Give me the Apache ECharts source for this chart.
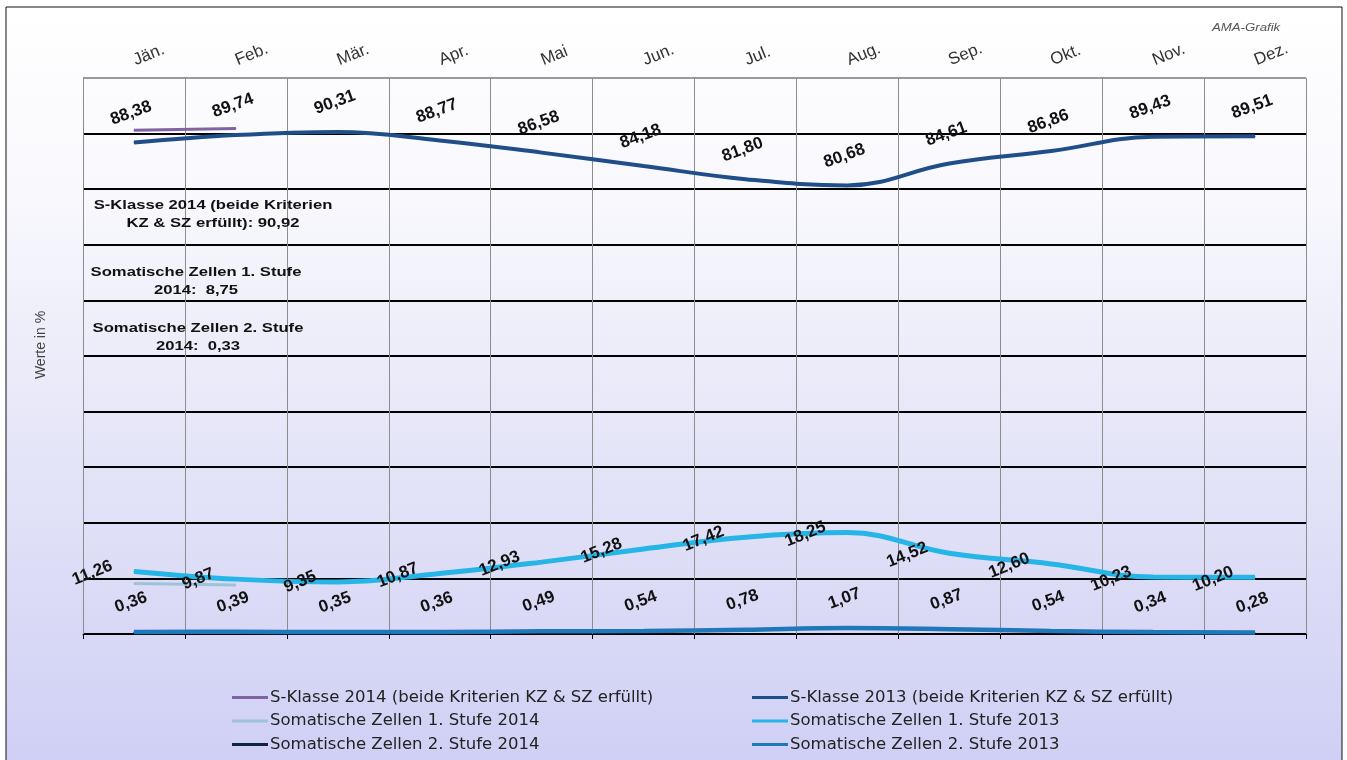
<!DOCTYPE html>
<html>
<head>
<meta charset="utf-8">
<script src="https://cdn.jsdelivr.net/npm/echarts@6/dist/echarts.min.js"></script>
<style>
html,body{margin:0;padding:0;background:#fff;}
#c{width:1347px;height:760px;}
</style>
</head>
<body>
<div id="c"></div>
<script>
const months = ['Jän.', 'Feb.', 'Mär.', 'Apr.', 'Mai', 'Jun.', 'Jul.', 'Aug.', 'Sep.', 'Okt.', 'Nov.', 'Dez.'];

const sKlasse2014 = [90.6, 90.9, null, null, null, null, null, null, null, null, null, null];
const sz1Stufe2014 = [9.1, 8.8, null, null, null, null, null, null, null, null, null, null];
const sz2Stufe2014 = [0.33, 0.33, null, null, null, null, null, null, null, null, null, null];

const sKlasse2013 = [88.38, 89.74, 90.31, 88.77, 86.58, 84.18, 81.80, 80.68, 84.61, 86.86, 89.43, 89.51];
const sz1Stufe2013 = [11.26, 9.87, 9.35, 10.87, 12.93, 15.28, 17.42, 18.25, 14.52, 12.60, 10.23, 10.20];
const sz2Stufe2013 = [0.36, 0.39, 0.35, 0.36, 0.49, 0.54, 0.78, 1.07, 0.87, 0.54, 0.34, 0.28];

const names = {
  s14: 'S-Klasse 2014 (beide Kriterien KZ & SZ erfüllt)',
  z114: 'Somatische Zellen 1. Stufe 2014',
  z214: 'Somatische Zellen 2. Stufe 2014',
  s13: 'S-Klasse 2013 (beide Kriterien KZ & SZ erfüllt)',
  z113: 'Somatische Zellen 1. Stufe 2013',
  z213: 'Somatische Zellen 2. Stufe 2013'
};

const annotations = [
  {text: 'S-Klasse 2014 (beide Kriterien\nKZ & SZ erfüllt): 90,92', x: 213, y: 214},
  {text: 'Somatische Zellen 1. Stufe\n2014:  8,75', x: 196, y: 281},
  {text: 'Somatische Zellen 2. Stufe\n2014:  0,33', x: 198, y: 337}
];

const FONT = '"Liberation Sans", Arial, sans-serif';
const chart = echarts.init(document.getElementById('c'));

function fmt(p) { return p.value == null ? '' : p.value.toFixed(2).replace('.', ','); }

const topLabel = {show: true, position: 'top', distance: 21, rotate: 20, formatter: fmt,
  color: '#111', fontFamily: FONT, fontWeight: 'bold', fontSize: 17};
const leftLabel = {show: true, position: 'left', distance: 16, rotate: 22, offset: [-3, -8], formatter: fmt,
  color: '#111', fontFamily: FONT, fontWeight: 'bold', fontSize: 17};

const gridColors = ['#000', '#000', '#000', '#000', '#000', '#000', '#000', '#000', '#000', '#000', '#999'];

function lineSeries(name, data, color, width, z, label) {
  return {name: name, type: 'line', data: data, smooth: 0.4, symbol: 'circle', symbolSize: 1,
    showSymbol: true, connectNulls: false,
    lineStyle: {color: color, width: width}, itemStyle: {color: color},
    label: label || {show: false}, z: z, emphasis: {disabled: true}};
}

const legendText = {fontFamily: '"DejaVu Sans", sans-serif', fontSize: 16.5, color: '#222', lineHeight: 17, padding: [0, 0, 0, -3]};

const option = {
  animation: false,
  graphic: [
    {type: 'rect', z: -100, silent: true, shape: {x: 6, y: 7, width: 1336, height: 760},
     style: {fill: new echarts.graphic.LinearGradient(0, 0, 0, 1, [
       {offset: 0, color: '#ffffff'}, {offset: 0.25, color: '#f8f8fd'},
       {offset: 0.6, color: '#e4e4f8'}, {offset: 1, color: '#cfcff5'}]),
       stroke: '#111', lineWidth: 1}},
    {type: 'text', x: 1212, y: 28, scaleX: 1.2,
     style: {text: 'AMA-Grafik', font: 'italic 11px ' + FONT, fill: '#555', verticalAlign: 'middle'}},
    {type: 'text', x: 41, y: 345, rotation: Math.PI / 2,
     style: {text: 'Werte in %', font: '14px ' + FONT, fill: '#444', align: 'center', verticalAlign: 'middle'}}
  ].concat(annotations.map(a => ({
    type: 'text', x: a.x, y: a.y, z: 10, scaleX: 1.28,
    style: {text: a.text, font: 'bold 13px ' + FONT, fill: '#111', align: 'center', verticalAlign: 'middle', lineHeight: 18}
  }))),
  grid: {left: 83, right: 41, top: 78, bottom: 126},
  legend: [
    {orient: 'vertical', left: 232, top: 689, padding: 0, itemGap: 6.5, itemWidth: 36, itemHeight: 3, icon: 'rect',
     data: [names.s14, names.z114, names.z214], textStyle: legendText},
    {orient: 'vertical', left: 752, top: 689, padding: 0, itemGap: 6.5, itemWidth: 36, itemHeight: 3, icon: 'rect',
     data: [names.s13, names.z113, names.z213], textStyle: legendText}
  ],
  xAxis: [
    {type: 'category', data: months, position: 'top', boundaryGap: true,
     axisLine: {show: false}, axisTick: {show: false},
     axisLabel: {rotate: 22, margin: 17, fontFamily: FONT, fontSize: 17, color: '#333'},
     splitLine: {show: true, lineStyle: {color: '#8c8c8c', width: 1}}},
    {type: 'category', data: months, position: 'bottom', boundaryGap: true,
     axisLine: {show: true, lineStyle: {color: '#000', width: 1}},
     axisTick: {show: true, length: 5, lineStyle: {color: '#000'}},
     axisLabel: {show: false}, splitLine: {show: false}}
  ],
  yAxis: {type: 'value', min: 0, max: 100, interval: 10,
    axisLine: {show: false}, axisTick: {show: false}, axisLabel: {show: false},
    splitLine: {show: true, lineStyle: {color: gridColors, width: 2}}},
  series: [
    lineSeries(names.z214, sz2Stufe2014, '#10253f', 3, 2),
    lineSeries(names.z213, sz2Stufe2013, '#1f78b9', 4.5, 3, topLabel),
    lineSeries(names.z114, sz1Stufe2014, '#9cc3da', 3, 2),
    lineSeries(names.z113, sz1Stufe2013, '#25b5e6', 5, 3, leftLabel),
    lineSeries(names.s13, sKlasse2013, '#1f4e89', 4, 3, topLabel),
    lineSeries(names.s14, sKlasse2014, '#8064a2', 3, 4)
  ]
};
chart.setOption(option);
</script>
</body>
</html>
